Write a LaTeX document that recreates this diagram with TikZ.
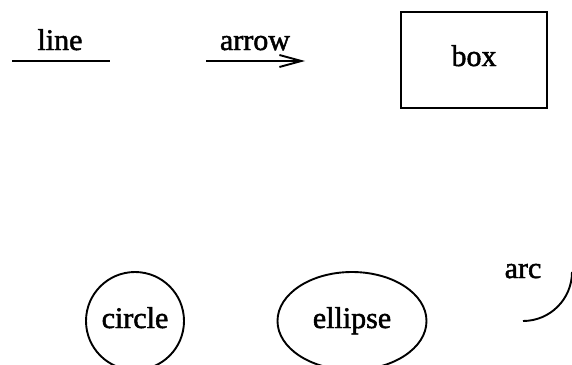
\documentclass[tikz,border=0pt]{standalone}
\usepackage{fontspec}
\setmainfont{Liberation Serif}
\newfontfamily\lblfont{Liberation Serif}[FakeBold=1.6]
\usetikzlibrary{arrows.meta}
\begin{document}
\begin{tikzpicture}[x=1pt,y=-1pt,
  shape line/.style={line width=1.9pt, black},
  lbl/.style={font=\lblfont\fontsize{30}{34}\selectfont, inner sep=0pt, anchor=base},
  barb/.style={-{Straight Barb[length=22pt,width=12pt,line width=1.9pt]}}]
\useasboundingbox (0,0) rectangle (572,364);
% line
\coordinate (l1) at (12,61);
\coordinate (l2) at (110,61);
\draw[shape line] (l1) -- (l2);
\node[lbl] (ltext) at (60,50) {line};
% arrow
\coordinate (a1) at (206,61);
\coordinate (a2) at (305,61);
\draw[shape line, barb] (a1) -- (a2);
\node[lbl] (atext) at (255,50) {arrow};
% box
\node[draw, shape line, minimum width=146pt, minimum height=96pt, inner sep=0pt] (box) at (474,60) {};
\node[lbl] (boxtext) at (474,66) {box};
% circle
\node[draw, shape line, circle, minimum size=98pt, inner sep=0pt] (circ) at (135,321) {};
\node[lbl] (ctext) at (135,328) {circle};
% ellipse
\draw[shape line] (352,321) ellipse [x radius=74.5, y radius=49];
\node[lbl] (ell) at (352,328) {ellipse};
% arc
\coordinate (arcc) at (523,272);
\draw[shape line] (523,321) arc[start angle=-90, end angle=0, x radius=49, y radius=-49];
\node[lbl] (arctext) at (523,278) {arc};
\end{tikzpicture}
\end{document}
